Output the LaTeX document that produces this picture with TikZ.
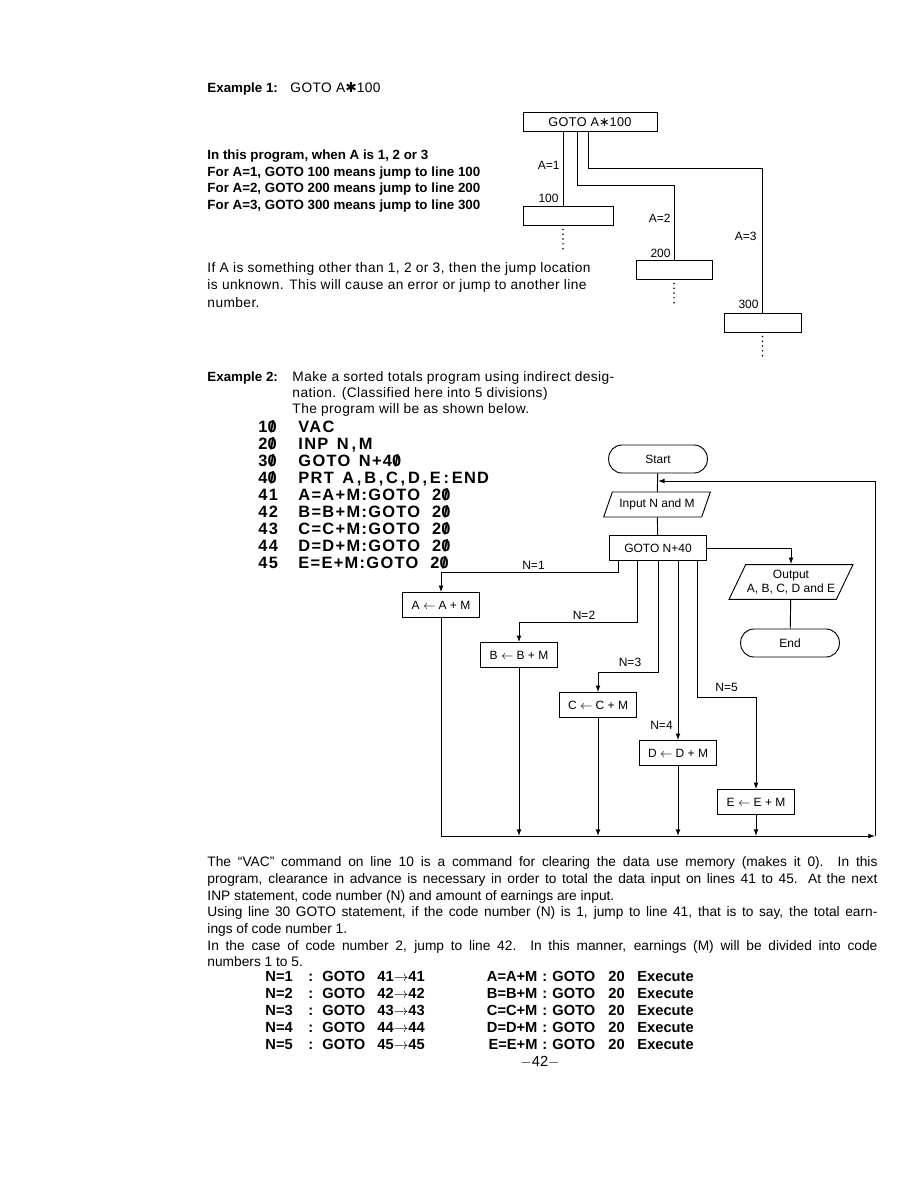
\documentclass[tikz,border=0pt]{standalone}
\usepackage{fontspec}
\setmainfont{Liberation Sans}
\newfontfamily\widefont[LetterSpace=3]{Liberation Sans}
\newfontfamily\codefont[LetterSpace=8]{Liberation Sans}
\newfontfamily\symfont{DejaVu Sans}
\usetikzlibrary{arrows.meta,shapes.geometric}
\newcommand{\zr}{\ooalign{0\cr\hidewidth/\hidewidth\cr}}

\begin{document}
\begin{tikzpicture}[x=0.75pt,y=-0.75pt,line width=0.7pt,>={Latex[length=5pt,width=3.6pt]},
  txt/.style={anchor=base west,inner sep=0pt},
  headb/.style={txt,font=\bfseries\fontsize{10}{12}\selectfont},
  body/.style={txt,font=\widefont\fontsize{10.3}{12}\selectfont},
  prose/.style={txt,font=\fontsize{10.3}{12}\selectfont},
  code/.style={txt,font=\codefont\bfseries\fontsize{12.3}{14}\selectfont},
  tab/.style={txt,font=\bfseries\fontsize{11}{13}\selectfont},
  fc/.style={font=\fontsize{9}{10.5}\selectfont},
  lbl/.style={fc,inner sep=0pt},
  jump/.style={draw,minimum height=14.25pt,inner sep=0pt},
  box/.style={fc,draw,minimum width=58pt,minimum height=18.5pt,inner sep=1pt},
  term/.style={fc,draw,rounded corners=10pt,minimum width=74pt,minimum height=21pt},
  io/.style={fc,draw,trapezium,trapezium left angle=58,trapezium right angle=122,trapezium stretches body,align=center,inner xsep=1pt,inner ysep=1pt},
  dots/.style={line width=1.3pt,line cap=round,dash pattern=on 0pt off 3.6pt}]
  \fill[white] (0,0) rectangle (918,1188); \useasboundingbox (0,0) rectangle (918,1188);

  % Example 1
  \node[headb] (ex1) at (207,93) {Example 1:}; \node[body] (ex1t) at (290,93) {GOTO A{\symfont ✱}100};
  \node[headb] (t1) at (207,159) {In this program, when A is 1, 2 or 3};
  \node[headb] (t2) at (207,176) {For A=1, GOTO 100 means jump to line 100};
  \node[headb] (t3) at (207,192) {For A=2, GOTO 200 means jump to line 200};
  \node[headb] (t4) at (207,209) {For A=3, GOTO 300 means jump to line 300};
  \node[body] (u1) at (207,272) {If A is something other than 1, 2 or 3, then the jump location};
  \node[body] (u2) at (207,289) {is unknown. This will cause an error or jump to another line};
  \node[body] (u3) at (207,307) {number.};

  \node[jump,minimum width=100.5pt,font=\widefont\fontsize{9.5}{11}\selectfont] (gA) at (590,122) {GOTO A{\symfont ∗}100};
  \node[jump,minimum width=67.5pt] (j100) at (568,215.5) {};
  \node[jump,minimum width=57pt] (j200) at (674,269.5) {};
  \node[jump,minimum width=57.75pt] (j300) at (762.5,322.5) {};
  \coordinate (c1) at (563,0); \coordinate (c2) at (577,185); \coordinate (c3) at (588,168);
  \draw (gA.south -| c1) -- (j100.north -| c1);
  \draw (gA.south -| c2) -- (c2) -| (j200.north);
  \draw (gA.south -| c3) -- (c3) -| (j300.north);
  \draw[dots] ([yshift=-3pt]j100.south -| c1) -- ++(0,24); \draw[dots] ([yshift=-3pt]j200.south) -- ++(0,24); \draw[dots] ([yshift=-3pt]j300.south) -- ++(0,24);
  \node[lbl,anchor=east] (a1) at (560,165) {A=1}; \node[lbl,anchor=east] (a100) at (559,198) {100};
  \node[lbl,anchor=east] (a2) at (671,218) {A=2}; \node[lbl,anchor=east] (a200) at (671,253) {200};
  \node[lbl,anchor=east] (a3) at (757,236) {A=3}; \node[lbl,anchor=east] (a300) at (759,304) {300};

  % Example 2
  \node[headb] (ex2) at (207,381) {Example 2:};
  \node[body] (v1) at (292,381) {Make a sorted totals program using indirect desig-};
  \node[body] (v2) at (292,397) {nation. (Classified here into 5 divisions)};
  \node[body] (v3) at (292,413) {The program will be as shown below.};
  \node[code] (p10) at (258,432) {\makebox[30pt][l]{1\zr}VAC};
  \node[code] (p20) at (258,449) {\makebox[30pt][l]{2\zr}INP\hspace{2pt} N\,,\,M};
  \node[code] (p30) at (258,466) {\makebox[30pt][l]{3\zr}GOTO\hspace{2pt} N+4\zr};
  \node[code] (p40) at (258,483) {\makebox[30pt][l]{4\zr}PRT\hspace{2pt} A\,,\,B\,,\,C\,,\,D\,,\,E\,:\,END};
  \node[code] (p41) at (258,500) {\makebox[30pt][l]{41}A=A+M:GOTO\hspace{9pt}2\zr};
  \node[code] (p42) at (258,517) {\makebox[30pt][l]{42}B=B+M:GOTO\hspace{9pt}2\zr};
  \node[code] (p43) at (258,534) {\makebox[30pt][l]{43}C=C+M:GOTO\hspace{9pt}2\zr};
  \node[code] (p44) at (258,551) {\makebox[30pt][l]{44}D=D+M:GOTO\hspace{9pt}2\zr};
  \node[code] (p45) at (258,568) {\makebox[30pt][l]{45}E=E+M:GOTO\hspace{9pt}2\zr};

  % flowchart
  \node[term] (start) at (658,459) {Start};
  \node[io,minimum width=80pt,minimum height=18.75pt] (inp) at (657,504.5) {Input N and M};
  \node[box,minimum width=72.75pt] (gN) at (658,548) {GOTO N+40};
  \node[io,minimum width=85pt,minimum height=26pt] (out) at (791,582) {Output\\A, B, C, D and E};
  \node[term] (end) at (790,643) {End};
  \node[box] (bA) at (441,605) {A $\leftarrow$ A + M};
  \node[box] (bB) at (519,655) {B $\leftarrow$ B + M};
  \node[box] (bC) at (598,705) {C $\leftarrow$ C + M};
  \node[box] (bD) at (678,753) {D $\leftarrow$ D + M};
  \node[box] (bE) at (756,802) {E $\leftarrow$ E + M};
  \draw (start) -- (inp); \draw (inp) -- (gN); \draw[->] (gN.east) -| (out.north); \draw (out) -- (end);
  \coordinate (n1) at (618,572); \coordinate (n2) at (637,622); \coordinate (n3) at (658,672); \coordinate (n4) at (678,0); \coordinate (n5) at (697,697);
  \draw[->] (gN.south -| n1) -- (n1) -| (bA.north);
  \draw[->] (gN.south -| n2) -- (n2) -| (bB.north);
  \draw[->] (gN.south) -- (n3) -| (bC.north);
  \draw[->] (gN.south -| n4) -- (bD.north);
  \draw[->] (gN.south -| n5) -- (n5) -| (bE.north);
  \node[lbl] (l1) at (533.5,565) {N=1}; \node[lbl] (l2) at (584,615) {N=2}; \node[lbl] (l3) at (630,662) {N=3};
  \node[lbl] (l4) at (661.5,725) {N=4}; \node[lbl] (l5) at (726.5,687) {N=5};
  \coordinate (bl) at (441,836); \coordinate (br) at (875,836); \coordinate (tr) at (875,481);
  \draw (bA) -- (bl); \draw[->] (bl) -- (br); \draw[->] (br) -- (tr) -- (start.south |- tr);
  \draw[->] (bB) -- (bB |- bl); \draw[->] (bC) -- (bC |- bl); \draw[->] (bD) -- (bD |- bl); \draw[->] (bE) -- (bE |- bl);

  % text below
  \node[prose] (w1) at (207,866) {\makebox[502.5pt][s]{The ``VAC'' command on line 10 is a command for clearing the data use memory (makes it 0). In this}};
  \node[prose] (w2) at (207,883) {\makebox[502.5pt][s]{program, clearance in advance is necessary in order to total the data input on lines 41 to 45. At the next}};
  \node[prose] (w3) at (207,900) {INP statement, code number (N) and amount of earnings are input.};
  \node[prose] (w4) at (207,916) {\makebox[502.5pt][s]{Using line 30 GOTO statement, if the code number (N) is 1, jump to line 41, that is to say, the total earn-}};
  \node[prose] (w5) at (207,933) {ings of code number 1.};
  \node[prose] (w6) at (207,950) {\makebox[502.5pt][s]{In the case of code number 2, jump to line 42. In this manner, earnings (M) will be divided into code}};
  \node[prose] (w7) at (207,966) {numbers 1 to 5.};
  \node[tab] (r1) at (265,981) {\makebox[32.25pt][l]{N=1}\makebox[10.5pt][l]{:}\makebox[41.25pt][l]{GOTO}\rlap{41$\rightarrow$41}\makebox[120pt][r]{A=A+M}\hspace{3.75pt}\makebox[7.5pt][l]{:}\makebox[42pt][l]{GOTO}\makebox[21.75pt][l]{20}Execute};
  \node[tab] (r2) at (265,998) {\makebox[32.25pt][l]{N=2}\makebox[10.5pt][l]{:}\makebox[41.25pt][l]{GOTO}\rlap{42$\rightarrow$42}\makebox[120pt][r]{B=B+M}\hspace{3.75pt}\makebox[7.5pt][l]{:}\makebox[42pt][l]{GOTO}\makebox[21.75pt][l]{20}Execute};
  \node[tab] (r3) at (265,1015) {\makebox[32.25pt][l]{N=3}\makebox[10.5pt][l]{:}\makebox[41.25pt][l]{GOTO}\rlap{43$\rightarrow$43}\makebox[120pt][r]{C=C+M}\hspace{3.75pt}\makebox[7.5pt][l]{:}\makebox[42pt][l]{GOTO}\makebox[21.75pt][l]{20}Execute};
  \node[tab] (r4) at (265,1032) {\makebox[32.25pt][l]{N=4}\makebox[10.5pt][l]{:}\makebox[41.25pt][l]{GOTO}\rlap{44$\rightarrow$44}\makebox[120pt][r]{D=D+M}\hspace{3.75pt}\makebox[7.5pt][l]{:}\makebox[42pt][l]{GOTO}\makebox[21.75pt][l]{20}Execute};
  \node[tab] (r5) at (265,1049) {\makebox[32.25pt][l]{N=5}\makebox[10.5pt][l]{:}\makebox[41.25pt][l]{GOTO}\rlap{45$\rightarrow$45}\makebox[120pt][r]{E=E+M}\hspace{3.75pt}\makebox[7.5pt][l]{:}\makebox[42pt][l]{GOTO}\makebox[21.75pt][l]{20}Execute};
  \node[txt,anchor=base,font=\fontsize{11}{13}\selectfont] (pg) at (540,1066) {$-$42$-$};
\end{tikzpicture}
\end{document}
